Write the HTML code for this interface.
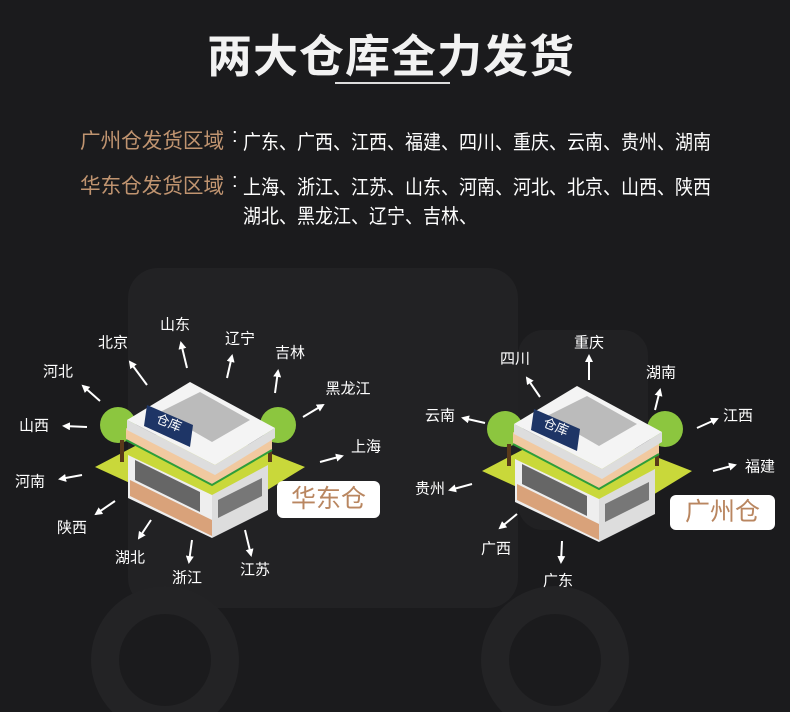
<!DOCTYPE html>
<html><head><meta charset="utf-8">
<style>
body{margin:0;width:790px;height:712px;overflow:hidden;background:#1b1b1d;font-family:"Liberation Sans","Noto Sans CJK SC",sans-serif;position:relative}
.t{position:absolute;white-space:nowrap;transform-origin:0 0}
.l{position:absolute;color:#fff;font-size:15px;transform:translate(-50%,-50%);white-space:nowrap}
.box{position:absolute;background:#fff;border-radius:6px;color:#b98660;font-size:25px;text-align:center;line-height:37px}
</style></head><body>
<svg width="790" height="712" style="position:absolute;left:0;top:0">
<defs><marker id="a" markerWidth="8" markerHeight="8" refX="6" refY="4" orient="auto" markerUnits="userSpaceOnUse"><path d="M0,0 L8,4 L0,8 z" fill="#fff"/></marker>
<g id="b">
<polygon points="95,467 185,420 305,467 215,522" fill="#c9d83a"/>
<circle cx="118" cy="425" r="18" fill="#8cc63f"/><rect x="120" y="440" width="4" height="22" fill="#5a3a1a"/>
<circle cx="278" cy="425" r="18" fill="#8cc63f"/><rect x="268" y="440" width="4" height="22" fill="#5a3a1a"/>
<polygon points="128,455 212,495 212,538 128,498" fill="#eee"/>
<polygon points="212,495 268,465 268,510 212,538" fill="#ddd"/>
<polygon points="130,480 212,520 212,536 130,496" fill="#d9a27a"/>
<polygon points="135,460 200,492 200,512 135,480" fill="#666"/>
<polygon points="218,500 262,478 262,496 218,518" fill="#777"/>
<polygon points="126,440 212,485 272,450 272,438 212,470 126,428" fill="#f1c9a0"/>
<polyline points="126,440 212,485 272,450" fill="none" stroke="#2e9e3a" stroke-width="2"/>
<polygon points="127,420 190,382 275,428 215,465" fill="#f4f4f4"/>
<polygon points="127,420 215,465 275,428 275,438 215,475 127,430" fill="#ddd"/>
<polygon points="160,412 200,392 250,420 212,442" fill="#bbb"/>
<polygon points="147,405 193,425 190,447 144,426" fill="#1e3566"/>
<text x="155" y="427" fill="#fff" font-size="13" font-family="Noto Sans CJK SC" transform="rotate(22 168 425)">仓库</text>
</g></defs>
<rect x="128" y="268" width="390" height="340" rx="30" fill="#222224"/>
<rect x="518" y="330" width="130" height="200" rx="25" fill="#212123"/>
<circle cx="165" cy="660" r="60" fill="none" stroke="#232325" stroke-width="28"/>
<circle cx="555" cy="660" r="60" fill="none" stroke="#232325" stroke-width="28"/>
<use href="#b"/>
<use href="#b" transform="translate(387,4)"/>
<g stroke="#fff" stroke-width="2" marker-end="url(#a)">
<line x1="147" y1="385" x2="130" y2="362"/><line x1="187" y1="368" x2="181" y2="343"/>
<line x1="227" y1="378" x2="232" y2="356"/><line x1="275" y1="393" x2="278" y2="371"/>
<line x1="303" y1="417" x2="323" y2="405"/><line x1="320" y1="462" x2="342" y2="456"/>
<line x1="100" y1="401" x2="83" y2="386"/><line x1="87" y1="427" x2="64" y2="426"/>
<line x1="82" y1="475" x2="60" y2="479"/><line x1="115" y1="501" x2="96" y2="514"/>
<line x1="151" y1="520" x2="139" y2="538"/><line x1="192" y1="540" x2="189" y2="562"/>
<line x1="245" y1="530" x2="251" y2="555"/>
<line x1="540" y1="397" x2="527" y2="378"/><line x1="589" y1="380" x2="589" y2="356"/>
<line x1="655" y1="410" x2="660" y2="390"/><line x1="697" y1="428" x2="717" y2="419"/>
<line x1="713" y1="471" x2="735" y2="465"/><line x1="485" y1="423" x2="463" y2="418"/>
<line x1="472" y1="484" x2="450" y2="490"/><line x1="517" y1="514" x2="500" y2="528"/>
<line x1="562" y1="541" x2="561" y2="562"/>
</g>
<rect x="335" y="82" width="115" height="2" fill="#ddd"/>
</svg>
<div class="t" style="left:207px;top:20px;font-size:45px;color:#f2f2f2;font-weight:bold;letter-spacing:1px">两大仓库全力发货</div>
<div class="t" style="left:80px;top:125px;font-size:21px;color:#c09470;transform:scaleX(0.98)">广州仓发货区域</div>
<div class="t" style="left:232px;top:125px;font-size:20px;color:#fff">:</div>
<div class="t" style="left:243px;top:126px;font-size:20px;color:#fff;transform:scaleX(0.9)">广东、广西、江西、福建、四川、重庆、云南、贵州、湖南</div>
<div class="t" style="left:80px;top:170px;font-size:21px;color:#c09470;transform:scaleX(0.98)">华东仓发货区域</div>
<div class="t" style="left:232px;top:170px;font-size:20px;color:#fff">:</div>
<div class="t" style="left:243px;top:171px;font-size:20px;color:#fff;transform:scaleX(0.9)">上海、浙江、江苏、山东、河南、河北、北京、山西、陕西</div>
<div class="t" style="left:243px;top:200px;font-size:20px;color:#fff;transform:scaleX(0.9)">湖北、黑龙江、辽宁、吉林、</div>
<div class="l" style="left:113px;top:342px">北京</div><div class="l" style="left:175px;top:324px">山东</div>
<div class="l" style="left:240px;top:338px">辽宁</div><div class="l" style="left:290px;top:352px">吉林</div>
<div class="l" style="left:348px;top:388px">黑龙江</div><div class="l" style="left:366px;top:446px">上海</div>
<div class="l" style="left:58px;top:371px">河北</div><div class="l" style="left:34px;top:425px">山西</div>
<div class="l" style="left:30px;top:481px">河南</div><div class="l" style="left:72px;top:527px">陕西</div>
<div class="l" style="left:130px;top:557px">湖北</div><div class="l" style="left:187px;top:577px">浙江</div>
<div class="l" style="left:255px;top:569px">江苏</div>
<div class="l" style="left:515px;top:358px">四川</div><div class="l" style="left:589px;top:342px">重庆</div>
<div class="l" style="left:661px;top:372px">湖南</div><div class="l" style="left:738px;top:415px">江西</div>
<div class="l" style="left:760px;top:466px">福建</div><div class="l" style="left:440px;top:415px">云南</div>
<div class="l" style="left:430px;top:488px">贵州</div><div class="l" style="left:496px;top:548px">广西</div>
<div class="l" style="left:558px;top:580px">广东</div>
<div class="box" style="left:277px;top:481px;width:103px;height:37px">华东仓</div>
<div class="box" style="left:670px;top:495px;width:105px;height:35px;line-height:35px">广州仓</div>
</body></html>
